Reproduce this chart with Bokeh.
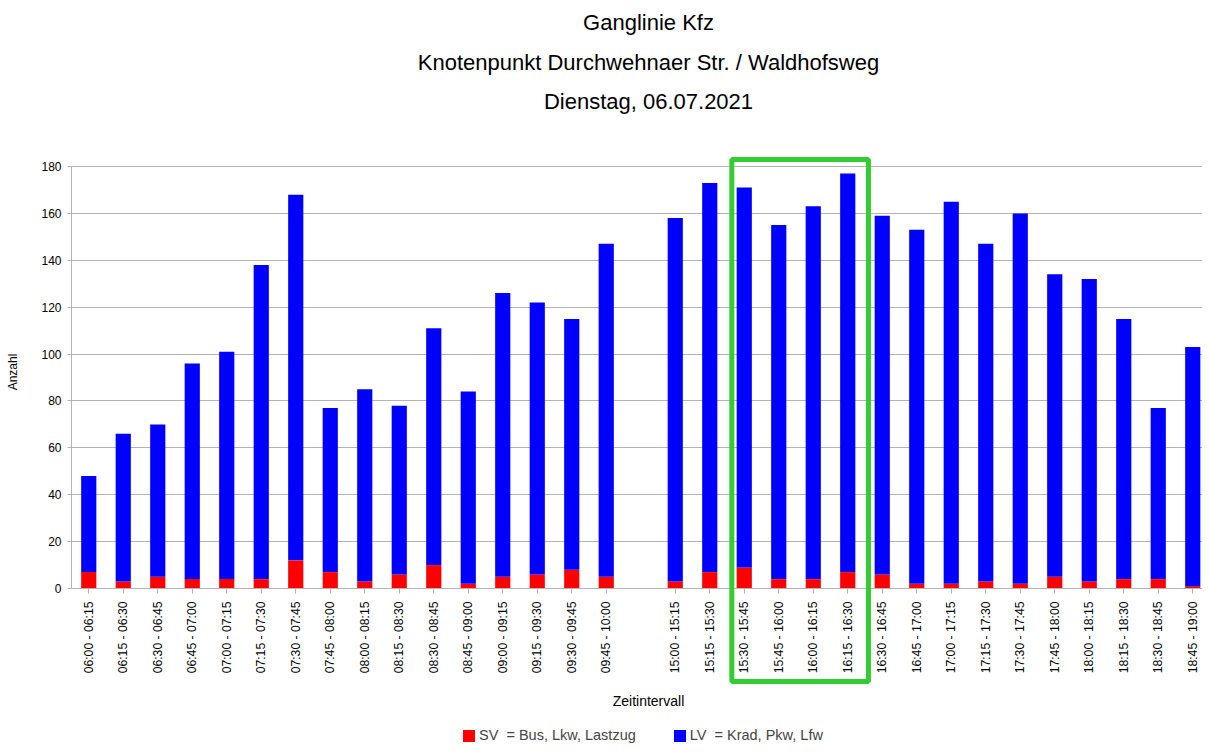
from math import pi
from bokeh.plotting import figure
from bokeh.models import (ColumnDataSource, Range1d, FixedTicker, Legend, LegendItem,
                          Label, BoxAnnotation)
from bokeh.embed import file_html
from bokeh.resources import INLINE

# ---------------- data ----------------
intervals = [
    "06:00 - 06:15", "06:15 - 06:30", "06:30 - 06:45", "06:45 - 07:00",
    "07:00 - 07:15", "07:15 - 07:30", "07:30 - 07:45", "07:45 - 08:00",
    "08:00 - 08:15", "08:15 - 08:30", "08:30 - 08:45", "08:45 - 09:00",
    "09:00 - 09:15", "09:15 - 09:30", "09:30 - 09:45", "09:45 - 10:00",
    "15:00 - 15:15", "15:15 - 15:30", "15:30 - 15:45", "15:45 - 16:00",
    "16:00 - 16:15", "16:15 - 16:30", "16:30 - 16:45", "16:45 - 17:00",
    "17:00 - 17:15", "17:15 - 17:30", "17:30 - 17:45", "17:45 - 18:00",
    "18:00 - 18:15", "18:15 - 18:30", "18:30 - 18:45", "18:45 - 19:00",
]
sv = [7, 3, 5, 4, 4, 4, 12, 7, 3, 6, 10, 2, 5, 6, 8, 5,
      3, 7, 9, 4, 4, 7, 6, 2, 2, 3, 2, 5, 3, 4, 4, 1]
lv = [41, 63, 65, 92, 97, 134, 156, 70, 82, 72, 101, 82, 121, 116, 107, 142,
      155, 166, 162, 151, 159, 170, 153, 151, 163, 144, 158, 129, 129, 111, 73, 102]
morning_count = 16          # a blank slot separates morning and afternoon blocks
highlight = ["15:30 - 15:45", "16:15 - 16:30"]
y_ticks = [0, 20, 40, 60, 80, 100, 120, 140, 160, 180]
titles = ["Ganglinie Kfz",
          "Knotenpunkt Durchwehnaer Str. / Waldhofsweg",
          "Dienstag, 06.07.2021"]

xpos = [i + (1 if i >= morning_count else 0) for i in range(len(intervals))]
src = ColumnDataSource(dict(x=xpos, SV=sv, LV=lv))

# ---------------- layout ----------------
W, H = 1202, 743
FL = 71                     # frame left (px)
Y0_PX, Y180_PX = 588, 166   # pixel rows of value 0 and 180
SLOT = 34.5                 # px per category slot
FONT = "Liberation Sans"

ppu = (Y0_PX - Y180_PX) / 180.0
y_lo = -(H - Y0_PX) / ppu
y_hi = 180 + Y180_PX / ppu
x_lo = -0.5
x_hi = x_lo + (W - FL) / SLOT

p = figure(width=W, height=H, output_backend="svg", toolbar_location=None,
           x_range=Range1d(x_lo, x_hi), y_range=Range1d(y_lo, y_hi),
           min_border_left=FL, min_border_top=0, min_border_right=0,
           min_border_bottom=0, outline_line_color=None)

def px_x(px):
    return x_lo + (px - FL) / SLOT
def px_y(py):
    return (Y0_PX - py) / ppu

rs = p.vbar_stack(["SV", "LV"], x="x", width=0.44, source=src,
                  color=["#ff0000", "#0000ff"], line_color=None)

# x axis, pinned at value 0
p.xaxis.fixed_location = 0
p.xaxis.ticker = FixedTicker(ticks=xpos)
p.xaxis.major_label_overrides = {x: lab for x, lab in zip(xpos, intervals)}
p.xaxis.major_label_orientation = pi / 2
p.xaxis.major_label_text_font = FONT
p.xaxis.major_label_text_font_size = "12.2px"
p.xaxis.major_label_text_color = "#000000"
p.xaxis.major_label_standoff = 8
p.xaxis.major_tick_out = 5
p.xaxis.major_tick_in = 0
p.xaxis.minor_tick_line_color = None
p.xaxis.major_tick_line_color = "#b3b3b3"
p.xaxis.axis_line_color = "#b3b3b3"

# y axis
p.yaxis.bounds = (0, 180)
p.yaxis.ticker = FixedTicker(ticks=y_ticks)
p.yaxis.major_label_text_font = FONT
p.yaxis.major_label_text_font_size = "12px"
p.yaxis.major_label_text_color = "#000000"
p.yaxis.major_label_standoff = 6
p.yaxis.major_tick_out = 4
p.yaxis.major_tick_in = 0
p.yaxis.minor_tick_line_color = None
p.yaxis.major_tick_line_color = "#b3b3b3"
p.yaxis.axis_line_color = "#b3b3b3"
p.yaxis.axis_label = "Anzahl"
p.yaxis.axis_label_text_font = FONT
p.yaxis.axis_label_text_font_style = "normal"
p.yaxis.axis_label_text_font_size = "12px"
p.yaxis.axis_label_text_color = "#000000"
p.yaxis.axis_label_standoff = 18

p.xgrid.grid_line_color = None
p.ygrid.grid_line_color = "#b3b3b3"
p.ygrid.ticker = FixedTicker(ticks=y_ticks)

# titles
for txt, py in zip(titles, [22, 62, 101]):
    p.add_layout(Label(x=px_x(648), y=px_y(py), text=txt, text_align="center",
                       text_baseline="middle", text_font=FONT,
                       text_font_size="22px", text_color="#000000"))

# x axis title
p.add_layout(Label(x=px_x(648), y=px_y(700), text="Zeitintervall", text_align="center",
                   text_baseline="middle", text_font=FONT,
                   text_font_size="14px", text_color="#000000"))

# highlight box around the afternoon peak
i0, i1 = intervals.index(highlight[0]), intervals.index(highlight[1])
p.add_layout(BoxAnnotation(left=xpos[i0] - 0.36, right=xpos[i1] + 0.6,
                           top=px_y(159), bottom=px_y(681),
                           fill_alpha=0, line_color="#33cc33", line_alpha=1,
                           line_width=5))

# legend
legend = Legend(items=[LegendItem(label="SV  = Bus, Lkw, Lastzug", renderers=[rs[0]]),
                       LegendItem(label="LV  = Krad, Pkw, Lfw", renderers=[rs[1]])],
                orientation="horizontal", location=(461 - FL, 0),
                padding=0, margin=0, spacing=36, label_standoff=3,
                glyph_width=15, glyph_height=15,
                label_text_font=FONT, label_text_font_size="14.5px",
                background_fill_alpha=0, border_line_alpha=0)
p.add_layout(legend, "center")

open("out.html", "w").write(file_html(p, INLINE))
